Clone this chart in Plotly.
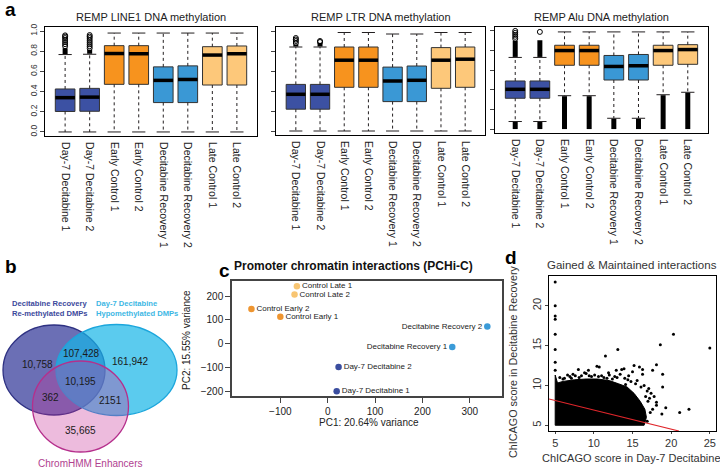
import plotly.graph_objects as go

W, H = 720, 469
FONT = "Liberation Sans, Arial, sans-serif"
INK = "#231f20"

# ---------------- a: REMP methylation boxplots ----------------
samples = ["Day-7 Decitabine 1", "Day-7 Decitabine 2", "Early Control 1", "Early Control 2",
           "Decitabine Recovery 1", "Decitabine Recovery 2", "Late Control 1", "Late Control 2"]
sample_colors = ["#3c51a3", "#3c51a3", "#f7931e", "#f7931e",
                 "#3a98d5", "#3a98d5", "#fdc87a", "#fdc87a"]
positions = [1, 2, 3, 4, 5, 6, 7, 8]
remp_titles = ["REMP LINE1 DNA methylation", "REMP LTR DNA methylation", "REMP Alu DNA methylation"]
beta_ticks = [0.0, 0.2, 0.4, 0.6, 0.8, 1.0]

line1_q1 = [0.203, 0.205, 0.472, 0.472, 0.291, 0.291, 0.465, 0.465]
line1_med = [0.340, 0.345, 0.777, 0.775, 0.511, 0.520, 0.762, 0.775]
line1_q3 = [0.426, 0.432, 0.855, 0.855, 0.645, 0.655, 0.845, 0.852]
line1_lo = [0.0, 0.0, 0.0, 0.0, 0.0, 0.0, 0.0, 0.0]
line1_hi = [0.767, 0.770, 0.980, 0.980, 0.980, 0.980, 0.980, 0.980]
line1_dense_pos = [1, 2]
line1_dense_lo = [0.772, 0.775]
line1_dense_hi = [0.830, 0.815]
line1_out_pos = [1, 1, 1, 1, 1, 1, 1, 2, 2, 2, 2, 2, 2, 2, 2]
line1_out_val = [0.85, 0.87, 0.89, 0.91, 0.93, 0.945, 0.957,
                 0.83, 0.85, 0.87, 0.89, 0.91, 0.93, 0.945, 0.96]

ltr_q1 = [0.218, 0.218, 0.437, 0.437, 0.294, 0.294, 0.427, 0.437]
ltr_med = [0.367, 0.367, 0.708, 0.708, 0.500, 0.507, 0.708, 0.718]
ltr_q3 = [0.466, 0.466, 0.840, 0.840, 0.639, 0.650, 0.834, 0.840]
ltr_lo = [0.0, 0.0, 0.0, 0.0, 0.0, 0.0, 0.0, 0.0]
ltr_hi = [0.840, 0.840, 0.985, 0.985, 0.970, 0.970, 0.985, 0.985]
ltr_dense_pos = [1, 2]
ltr_dense_lo = [0.845, 0.845]
ltr_dense_hi = [0.865, 0.880]
ltr_out_pos = [1, 1, 1, 1, 2, 2]
ltr_out_val = [0.88, 0.90, 0.915, 0.93, 0.89, 0.90]

alu_q1 = [0.314, 0.314, 0.650, 0.650, 0.500, 0.500, 0.650, 0.660]
alu_med = [0.405, 0.405, 0.800, 0.800, 0.638, 0.645, 0.800, 0.810]
alu_q3 = [0.490, 0.490, 0.854, 0.854, 0.750, 0.760, 0.854, 0.860]
alu_lo = [0.077, 0.077, 0.340, 0.340, 0.110, 0.110, 0.350, 0.375]
alu_hi = [0.730, 0.730, 0.990, 0.990, 0.990, 0.990, 0.990, 0.990]
alu_dense_pos = [1, 2, 1, 2, 3, 4, 5, 6, 7, 8]
alu_dense_lo = [0.735, 0.735, 0.0, 0.0, 0.0, 0.0, 0.0, 0.0, 0.0, 0.0]
alu_dense_hi = [0.900, 0.905, 0.072, 0.072, 0.335, 0.335, 0.105, 0.105, 0.345, 0.370]
alu_out_pos = [1, 1, 1, 1, 1, 2]
alu_out_val = [0.92, 0.94, 0.96, 0.98, 1.0, 0.99]

# ---------------- b: Venn of DMPs and enhancers ----------------
venn_sets = ["Decitabine Recovery<br>Re-methylated DMPs", "Day-7 Decitabine<br>Hypomethylated DMPs",
             "ChromHMM Enhancers"]
venn_counts = ["10,758", "107,428", "161,942", "10,195", "362", "2151", "35,665"]

# ---------------- c: PCHi-C PCA ----------------
pca_labels = ["Control Late 1", "Control Late 2", "Control Early 2", "Control Early 1",
              "Decitabine Recovery 2", "Decitabine Recovery 1", "Day-7 Decitabine 2", "Day-7 Decitabine 1"]
pca_pc1 = [-65, -70, -161, -100, 337, 263, 23, 19]
pca_pc2 = [242, 207, 146, 113, 72, -14, -99, -201]
pca_colors = ["#f8c572", "#f8c572", "#ee9530", "#ee9530", "#3b9bd8", "#3b9bd8", "#3a4d9f", "#3a4d9f"]
pca_textpos = ["middle right"] * 4 + ["middle left"] * 2 + ["middle right"] * 2

# ---------------- d: ChICAGO scores ----------------
chic_x = [5, 5, 5, 5, 5, 5, 5, 5,
          20.3, 18.6, 25.0, 13.1, 11.5, 18.1, 17.6, 18.9, 18.1, 18.1, 18.8, 21.1, 22.3,
          13.9, 13.6, 10.4, 10.7, 8.0, 9.3, 15.2, 15.9, 16.3, 16.5, 17.1, 17.4, 16.7, 16.3,
          7.6, 11.9, 14.5, 12.4, 15.6, 17.6, 15.8, 18.9, 14.1, 6.6, 9.0, 12.9, 15.0, 17.0,
          17.3, 16.9, 19.3,
          5.6, 6.2, 6.9, 7.3, 8.4, 8.8, 9.7, 10.1, 11.0, 11.3, 12.0, 12.7, 13.4, 14.0, 14.8,
          6.0, 7.1, 8.1, 9.4, 10.6, 11.7, 13.0, 14.4, 15.4, 16.1, 16.9, 17.2, 16.4, 15.6, 17.8]
chic_y = [22.98, 20.0, 18.7, 18.3, 16.4, 14.5, 12.9, 11.9,
          16.4, 15.1, 14.7, 14.5, 13.7, 12.6, 11.9, 9.8, 7.9, 7.5, 6.4, 6.6, 7.0,
          12.1, 12.0, 12.4, 12.3, 12.0, 11.9, 12.5, 12.3, 11.4, 10.0, 9.6, 9.0, 8.6, 12.0,
          11.2, 11.6, 11.2, 10.8, 10.6, 7.0, 6.0, 11.4, 10.1, 11.3, 11.5, 11.9, 11.7, 8.0,
          6.6, 5.5, 7.2,
          11.0, 10.9, 11.1, 11.4, 11.2, 11.6, 11.1, 11.3, 11.2, 11.0, 11.3, 11.1, 11.4, 10.9, 10.5,
          10.8, 10.9, 11.0, 11.2, 11.1, 10.9, 11.0, 10.7, 10.2, 9.8, 9.3, 8.4, 6.8, 5.9, 8.6]
# outline of the saturated point cloud
cloud_x = [5.0, 5.0, 5.3, 6.0, 7.5, 9.0, 10.5, 12.0, 13.2, 14.3, 15.2, 16.0, 16.6, 16.8, 16.5, 5.0]
cloud_y = [5.0, 11.3, 10.3, 10.5, 10.7, 10.8, 10.8, 10.6, 10.2, 9.8, 9.0, 8.0, 7.0, 6.0, 5.0, 5.0]
fit_intercept, fit_slope = 9.30, -0.239
fit_x = [4.2, 21.0]

# Venn geometry in panel pixels (centre, radii) and label spots
venn_cx = [54, 116.5, 80.5]
venn_cy = [370, 370, 406.5]
venn_rx = [51, 60.5, 48]
venn_ry = [45, 45.5, 45.5]
venn_fill = ["rgba(70,75,162,0.8)", "rgba(21,181,231,0.7)", "rgba(200,49,152,0.33)"]
venn_edge = ["#2e3182", "#1ba6dc", "#b52f8c"]
count_x = [37, 81, 130, 80, 50.5, 110, 80]
count_y = [364, 353, 361, 381, 397.5, 400, 430]


def dom_x(x0, x1):
    return [x0 / W, x1 / W]


def dom_y(y0, y1):
    return [1 - y1 / H, 1 - y0 / H]


def seg(xs0, xs1, ys0, ys1):
    xs, ys = [], []
    for a, b, c, d in zip(xs0, xs1, ys0, ys1):
        xs += [a, b, None]
        ys += [c, d, None]
    return xs, ys


fig = go.Figure()

remp = [
    (line1_q1, line1_med, line1_q3, line1_lo, line1_hi, line1_dense_pos, line1_dense_lo, line1_dense_hi,
     line1_out_pos, line1_out_val),
    (ltr_q1, ltr_med, ltr_q3, ltr_lo, ltr_hi, ltr_dense_pos, ltr_dense_lo, ltr_dense_hi,
     ltr_out_pos, ltr_out_val),
    (alu_q1, alu_med, alu_q3, alu_lo, alu_hi, alu_dense_pos, alu_dense_lo, alu_dense_hi,
     alu_out_pos, alu_out_val),
]
remp_frames = [(45, 257, 27, 136), (276, 485, 27, 135), (495, 708, 27, 133)]

for i, (q1, med, q3, lo, hi, dpos, dlo, dhi, opos, oval) in enumerate(remp):
    xa, ya = f"x{i + 1 if i else ''}", f"y{i + 1 if i else ''}"
    # whiskers
    wx, wy = seg(positions * 2, positions * 2, q3 + q1, hi + lo)
    fig.add_trace(go.Scatter(x=wx, y=wy, mode="lines", line=dict(color=INK, width=1, dash="3px,3px"),
                             xaxis=xa, yaxis=ya, hoverinfo="skip"))
    cx, cy = seg([p - 0.27 for p in positions * 2], [p + 0.27 for p in positions * 2], hi + lo, hi + lo)
    fig.add_trace(go.Scatter(x=cx, y=cy, mode="lines", line=dict(color=INK, width=1),
                             xaxis=xa, yaxis=ya, hoverinfo="skip"))
    # dense outlier runs
    dx, dy = seg(dpos, dpos, dlo, dhi)
    fig.add_trace(go.Scatter(x=dx, y=dy, mode="lines", line=dict(color="black", width=5),
                             xaxis=xa, yaxis=ya, hoverinfo="skip"))
    fig.add_trace(go.Scatter(x=opos, y=oval, mode="markers",
                             marker=dict(symbol="circle-open", size=5, color="black", line=dict(width=1)),
                             xaxis=xa, yaxis=ya))
    # boxes
    fig.add_trace(go.Bar(x=positions, y=[b - a for a, b in zip(q1, q3)], base=q1, width=0.8,
                         marker=dict(color=sample_colors, line=dict(color="#333333", width=1)),
                         xaxis=xa, yaxis=ya))
    mx, my = seg([p - 0.4 for p in positions], [p + 0.4 for p in positions], med, med)
    fig.add_trace(go.Scatter(x=mx, y=my, mode="lines", line=dict(color="black", width=3.5),
                             xaxis=xa, yaxis=ya, hoverinfo="skip"))

# c: PCA
fig.add_trace(go.Scatter(x=pca_pc1, y=pca_pc2, mode="markers+text", text=pca_labels,
                         textposition=pca_textpos, textfont=dict(size=8, color="#222"),
                         marker=dict(color=pca_colors, size=6.5), xaxis="x5", yaxis="y5"))

# d: ChICAGO scatter
fig.add_trace(go.Scatter(x=cloud_x, y=cloud_y, mode="lines", fill="toself", fillcolor="black",
                         line=dict(color="black", width=1), xaxis="x6", yaxis="y6", hoverinfo="skip"))
fig.add_trace(go.Scatter(x=chic_x, y=chic_y, mode="markers", marker=dict(color="black", size=3),
                         xaxis="x6", yaxis="y6"))
fig.add_trace(go.Scatter(x=fit_x, y=[fit_intercept + fit_slope * v for v in fit_x], mode="lines",
                         line=dict(color="#e0262b", width=1.2), xaxis="x6", yaxis="y6"))

frame = dict(showline=True, mirror=True, linecolor="black", linewidth=1, showgrid=False,
             zeroline=False, automargin=False)
tickfont = dict(family=FONT, size=8.5, color="#333")
layout = dict(
    width=W, height=H, margin=dict(l=0, r=0, t=0, b=0), showlegend=False,
    plot_bgcolor="white", paper_bgcolor="white", barmode="overlay",
    font=dict(family=FONT, color="#222"),
)
for i, (x0, x1, y0, y1) in enumerate(remp_frames):
    sfx = str(i + 1) if i else ""
    layout["xaxis" + sfx] = dict(frame, domain=dom_x(x0, x1), range=[0.18, 8.82], tickvals=positions,
                                 ticktext=samples, tickangle=90, ticks="outside", ticklen=3,
                                 tickcolor="white", tickfont=dict(family=FONT, size=10.5, color="#222"),
                                 anchor="y" + sfx)
    layout["yaxis" + sfx] = dict(frame, domain=dom_y(y0, y1), range=[-0.04, 1.04], tickvals=beta_ticks,
                                 ticktext=[f"{v:.1f}" for v in beta_ticks], tickangle=-90,
                                 ticks="outside", ticklen=4, tickfont=tickfont,
                                 showticklabels=(i == 0), anchor="x" + sfx)

layout["xaxis4"] = dict(domain=dom_x(0, 210), range=[0, 210], visible=False, anchor="y4")
layout["yaxis4"] = dict(domain=dom_y(290, 469), range=[469, 290], visible=False, anchor="x4")

layout["xaxis5"] = dict(frame, domain=dom_x(232, 502), range=[-202, 368], tickvals=[-100, 0, 100, 200, 300],
                        ticks="outside", ticklen=5, linecolor="#444", linewidth=1.5,
                        tickfont=dict(family=FONT, size=10, color="#222"), anchor="y5")
layout["yaxis5"] = dict(frame, domain=dom_y(281, 396), range=[-221, 264], tickvals=[-200, -100, 0, 100, 200],
                        ticks="outside", ticklen=5, linecolor="#444", linewidth=1.5,
                        tickfont=dict(family=FONT, size=10, color="#222"), anchor="x5")

layout["xaxis6"] = dict(frame, domain=dom_x(549, 716), range=[4.2, 25.8], tickvals=[5, 10, 15, 20, 25],
                        ticks="outside", ticklen=2, tickfont=dict(family=FONT, size=11, color="#333"),
                        anchor="y6")
layout["yaxis6"] = dict(frame, domain=dom_y(276, 431), range=[4.28, 23.72], tickvals=[5, 10, 15, 20],
                        ticks="outside", ticklen=3, tickangle=-90,
                        tickfont=dict(family=FONT, size=11, color="#333"), anchor="x6")

layout["shapes"] = [
    dict(type="circle", xref="x4", yref="y4", x0=cx - rx, x1=cx + rx, y0=cy - ry, y1=cy + ry,
         fillcolor=fill, line=dict(color=edge, width=1.3))
    for cx, cy, rx, ry, fill, edge in zip(venn_cx, venn_cy, venn_rx, venn_ry, venn_fill, venn_edge)
]


def note(text, x, y, size, bold=False, color="#222", angle=0, xanchor="center", align="center"):
    return dict(text=f"<b>{text}</b>" if bold else text, x=x / W, y=1 - y / H, xref="paper", yref="paper",
                showarrow=False, xanchor=xanchor, yanchor="middle", textangle=angle, align=align,
                font=dict(family=FONT, size=size, color=color))


annotations = [
    note("a", 10, 10, 19, bold=True, color="black"),
    note("b", 11, 266, 19, bold=True, color="black"),
    note("c", 224, 270, 19, bold=True, color="black"),
    note("d", 511, 257, 19, bold=True, color="black"),
]
for t, (x0, x1, _, _) in zip(remp_titles, remp_frames):
    annotations.append(note(t, (x0 + x1) / 2, 17, 11))
# Venn counts sit above the translucent circles
for t, x, y in zip(venn_counts, count_x, count_y):
    annotations.append(dict(text=t, x=x, y=y, xref="x4", yref="y4", showarrow=False,
                            font=dict(family=FONT, size=10, color="#1a1a1a")))
annotations += [
    note(venn_sets[0], 10, 308, 7.6, bold=True, color="#3c4a9c", xanchor="left", align="left"),
    note(venn_sets[1], 94, 308, 7.6, bold=True, color="#3db7e4", xanchor="left", align="left"),
    note(venn_sets[2], 90, 463, 10, color="#b0418f"),
    note("Promoter chromatin interactions (PCHi-C)", 353, 266, 12, bold=True, color="#111"),
    note("PC1: 20.64% variance", 369, 422, 10),
    note("PC2: 15.55% variance", 186, 340, 10, angle=-90),
    note("Gained &amp; Maintained interactions", 632, 265, 11.5, color="#333"),
    note("ChICAGO score in Day-7 Decitabine", 631, 458, 11, color="#333"),
    note("ChICAGO score in Decitabine Recovery", 513, 362, 10.8, color="#333", angle=-90),
]
layout["annotations"] = annotations

fig.update_layout(**layout)
fig.write_html("out.html", config={"displayModeBar": False},
               post_script="document.body.style.margin='0';document.body.style.overflow='hidden';")
